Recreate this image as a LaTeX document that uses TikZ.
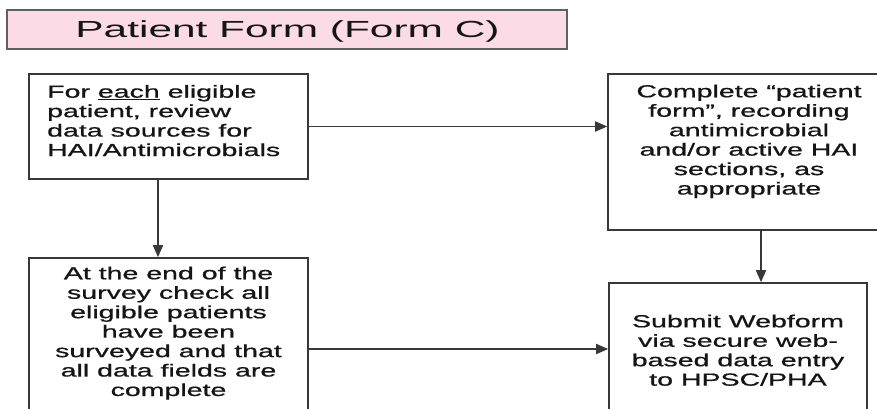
\documentclass[tikz,border=0pt]{standalone}
\usepackage{fontspec}
\setmainfont{Liberation Sans}[FakeBold=0.6]
\newfontfamily\titlefont{Liberation Sans}
\usetikzlibrary{arrows.meta}
\definecolor{titlepink}{HTML}{FADBE6}
\definecolor{edgegray}{HTML}{383838}
\definecolor{inkdark}{HTML}{151515}
% horizontally widened text block: #1 = scale, #2 = column spec, #3 = lines
\newcommand{\widetext}[3]{\scalebox{#1}[1]{\begin{tabular}[t]{@{}#2@{}}#3\end{tabular}}}
\begin{document}
\begin{tikzpicture}[x=1pt,y=-1pt,
  stepbox/.style={draw=edgegray,line width=1.6pt,rectangle,inner sep=0pt},
  txt/.style={inner sep=0pt,text=inkdark,font=\fontsize{17.5}{19.45}\selectfont},
  flow/.style={draw=edgegray,line width=1.7pt,-{Triangle[length=12pt,width=10pt]}}]
\clip (0,0) rectangle (877,409);
\fill[white] (0,0) rectangle (877,409);

% title banner
\node[draw=gray!75!black,line width=1.3pt,fill=titlepink,minimum width=560pt,minimum height=39pt,inner sep=0pt] (title) at (287,29.5) {};
\node[inner sep=0pt,text=inkdark,anchor=base,font=\titlefont\fontsize{23.3}{26}\selectfont] (titletext) at (287.5,37.7) {\scalebox{1.82}[1]{Patient Form (Form C)}};

% process boxes
\node[stepbox,minimum width=279pt,minimum height=105pt] (boxA) at (168.5,126.5) {};
\node[stepbox,minimum width=282pt,minimum height=156pt] (boxB) at (749,152) {};
\node[stepbox,minimum width=279pt,minimum height=172pt] (boxC) at (168.5,344) {};
\node[stepbox,minimum width=258pt,minimum height=147pt] (boxD) at (738,356.5) {};

% box texts
\node[txt,anchor=base west] (textA) at (47,97.7)
  {\widetext{1.63}{l}{For \underline{each} eligible\\patient, review\\data sources for\\HAI/Antimicrobials}};
\node[txt,anchor=base] (textB) at (749,97.3)
  {\widetext{1.63}{c}{Complete “patient\\form”, recording\\antimicrobial\\and/or active HAI\\sections, as\\appropriate}};
\node[txt,anchor=base] (textC) at (168.5,279.3)
  {\widetext{1.63}{c}{At the end of the\\survey check all\\eligible patients\\have been\\surveyed and that\\all data fields are\\complete}};
\node[txt,anchor=base] (textD) at (738,327.3)
  {\widetext{1.63}{c}{Submit Webform\\via secure web-\\based data entry\\to HPSC/PHA}};

% connectors
\draw[flow] (boxA.east) -- (boxA.east -| boxB.west);
\draw[flow] ([xshift=-10.5pt]boxA.south) -- ([xshift=-10.5pt]boxA.south |- boxC.north);
\draw[flow] ([xshift=12pt]boxB.south) -- ([xshift=12pt]boxB.south |- boxD.north);
\draw[flow] ([yshift=-5pt]boxC.east) -- ([yshift=-5pt]boxC.east -| boxD.west);
\end{tikzpicture}
\end{document}
